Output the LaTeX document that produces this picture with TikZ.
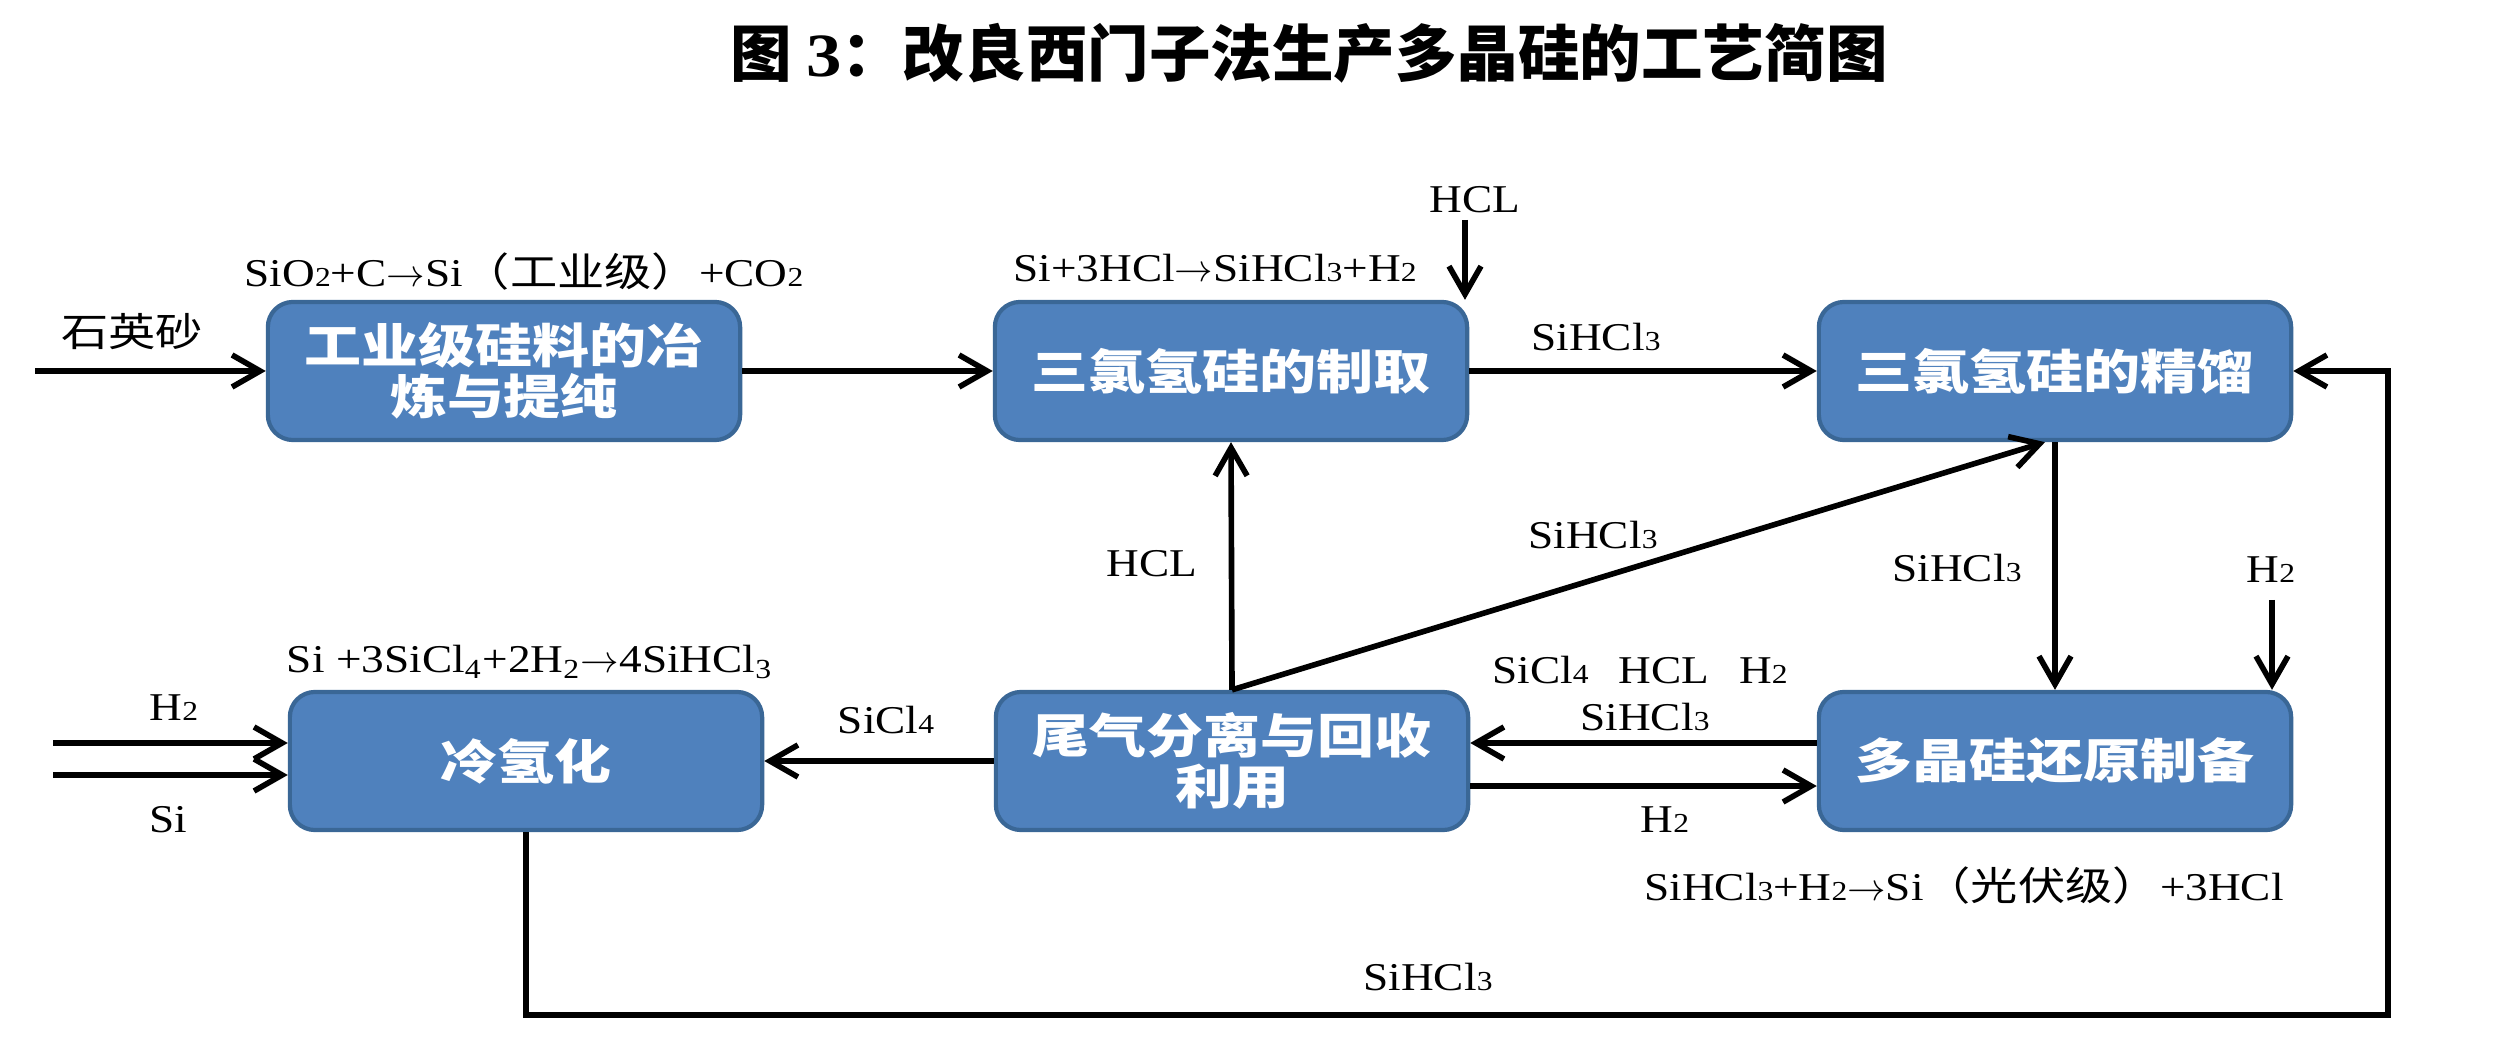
\documentclass[tikz,border=0pt]{standalone}
\usepackage{fontspec}
\setmainfont{Liberation Serif}[FakeStretch=1.15]
\newfontfamily\cjk{Noto Sans CJK SC}[FakeStretch=1.2]
\newfontfamily\cjktitle{Noto Sans CJK SC}
\usetikzlibrary{arrows.meta}
\definecolor{boxblue}{HTML}{4F81BD}
\definecolor{boxedge}{HTML}{3A6796}
\newcommand{\dg}[1]{{\fontsize{7.8}{8}\selectfont #1}}
\newcommand{\yields}{$\rightarrow$}

\begin{document}
\begin{tikzpicture}[x=0.01cm, y=-0.01cm,
    stage/.style={draw=boxedge, line width=1.2pt, fill=boxblue, rounded corners=0.25cm, minimum width=4.72cm, minimum height=1.38cm, inner sep=0pt, align=center, text=white, font=\cjk\bfseries\fontsize{13.5}{14.5}\selectfont},
    lbl/.style={inner sep=1pt, font=\fontsize{11.2}{12}\selectfont},
    arr/.style={-{Straight Barb[length=2.8mm, width=3.2mm]}, line width=1.6pt}
]
\useasboundingbox (0,0) rectangle (2502,1058);

\node (title) at (1309,53) {\cjktitle\bfseries\fontsize{17.5}{20}\selectfont 图 {\rmfamily 3}：改良西门子法生产多晶硅的工艺简图};

% process stages
\node[stage] (smelt) at (504,371) {工业级硅料的冶\\炼与提纯};
\node[stage] (prep) at (1231,371) {三氯氢硅的制取};
\node[stage] (distil) at (2055,371) {三氯氢硅的精馏};
\node[stage] (reduce) at (2055,761) {多晶硅还原制备};
\node[stage] (recover) at (1232,761) {尾气分离与回收\\利用};
\node[stage] (coldhyd) at (526,761) {冷氢化};

% free ends
\coordinate (sandin) at (35,371);
\coordinate (hcltop) at (1465,220);
\coordinate (h2top) at (2272,600);
\coordinate (h2in) at (53,743);
\coordinate (siin) at (53,775);
\coordinate (loopend) at (2388,1015);

% flows
\draw[arr] (sandin) -- (smelt.west);
\draw[arr] (smelt.east) -- (prep.west);
\draw[arr] (hcltop) -- (hcltop |- prep.north);
\draw[arr] (prep.east) -- (distil.west);
\draw[arr] (distil.south) -- (reduce.north);
\draw[arr] (h2top) -- (h2top |- reduce.north);
\draw[arr] ([yshift=0.18cm]reduce.west) -- ([yshift=0.18cm]recover.east);
\draw[arr] ([yshift=-0.25cm]recover.east) -- ([yshift=-0.25cm]reduce.west);
\draw[arr] (recover.north) -- (prep.south);
\draw[arr] (recover.north) -- ([xshift=-0.1cm]distil.south);
\draw[arr] (recover.west) -- (coldhyd.east);
\draw[arr] (h2in) -- (h2in -| coldhyd.west);
\draw[arr] (siin) -- (siin -| coldhyd.west);
\draw[arr] (coldhyd.south) |- (loopend) |- (distil.east);

% labels
\node[lbl] (sand) at (132,332) {\cjk 石英砂};
\node[lbl] (eqsmelt) at (524,272) {SiO\dg{2}+C\yields Si{\cjk（工业级）}+CO\dg{2}};
\node[lbl] (eqprep) at (1215,268) {Si+3HCl\yields SiHCl\dg{3}+H\dg{2}};
\node[lbl] (hclfeed) at (1475,200) {HCL};
\node[lbl] (crude) at (1596,337) {SiHCl\dg{3}};
\node[lbl] (hclback) at (1152,564) {HCL};
\node[lbl] (tcsback) at (1593,535) {SiHCl\dg{3}};
\node[lbl] (pure) at (1957,568) {SiHCl\dg{3}};
\node[lbl] (h2feed) at (2271,570) {H\dg{2}};
\node[lbl] (eqcold) at (530,662) {Si +3SiCl\textsubscript{4}+2H\textsubscript{2}\yields 4SiHCl\textsubscript{3}};
\node[lbl] (h2cold) at (174,708) {H\dg{2}};
\node[lbl] (sicold) at (168,820) {Si};
\node[lbl] (stc) at (886,720) {SiCl\dg{4}};
\node[lbl] (offgas) at (1640,670) {SiCl\dg{4}\hspace{0.3cm}HCL\hspace{0.3cm}H\dg{2}};
\node[lbl] (offtcs) at (1645,717) {SiHCl\dg{3}};
\node[lbl] (h2ret) at (1665,820) {H\dg{2}};
\node[lbl] (eqreduce) at (1964,886) {SiHCl\dg{3}+H\dg{2}\yields Si{\cjk（光伏级）}+3HCl};
\node[lbl] (loop) at (1428,977) {SiHCl\dg{3}};
\end{tikzpicture}
\end{document}
